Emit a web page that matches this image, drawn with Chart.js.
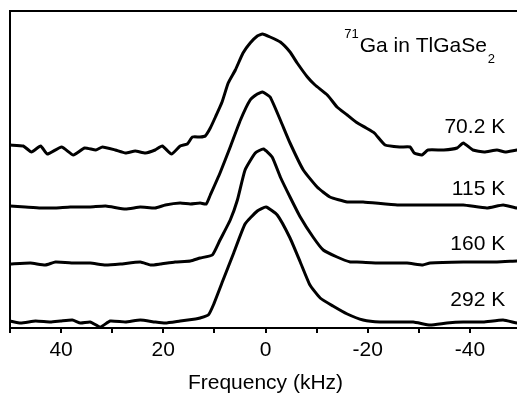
<!DOCTYPE html>
<html>
<head>
<meta charset="utf-8">
<script src="https://cdn.jsdelivr.net/npm/chart.js@4/dist/chart.umd.min.js"></script>
<style>
  html, body { margin: 0; padding: 0; background: #fff; overflow: hidden; }
  #wrap { width: 517px; height: 399px; overflow: hidden; position: relative; }
  canvas { display: block; }
</style>
</head>
<body>
<div id="wrap"><canvas id="c" width="530" height="399"></canvas></div>
<script>
// ---- Data (frequency in kHz, intensity in arbitrary units above each baseline) ----
const freqA = [50,47.4,45.8,44.0,42.7,39.9,37.6,35.4,33.2,31.9,29.4,27.4,25.5,23.5,21.6,20.2,18.4,16.7,15.3,14.3,12.8,11.8,10.8,9.8,8.5,7.3,5.9,4.4,3.0,1.6,0.6,-0.9,-2.9,-4.8,-6.2,-8.2,-9.7,-12.1,-14.0,-16.0,-17.7,-19.7,-21.3,-23.4,-26.3,-28.3,-29.1,-30.6,-31.8,-34.9,-37.5,-38.7,-40.6,-42.8,-45.3,-46.9,-49.2,-50];
const intA  = [5,4,-2,4,-4,3,-5,2,0,3,0,-3,-1,-3,0,4,-4,4,6,13,13,14,22,33,48,67,80,97,107,114,116,113,108,98,87,73,65,55,43,35,28,22,17,5,3,3,-3,-5,0,0,2,7,0,-2,0,-2,0,0];

const freqB = [50,47.0,44.0,41.1,38.2,34.3,31.3,27.4,24.5,21.6,19.6,16.7,14.7,12.8,11.6,10.8,8.9,6.9,4.9,3.0,1.6,0.6,-0.9,-2.9,-4.8,-7.4,-10.1,-12.6,-16.0,-19.1,-25.8,-32.2,-38.7,-43.3,-46.5,-49.2,-50];
const intB  = [0,-1,-2,-2,-1,-1,0,-3,-1,-2,1,3,2,3,2,11,33,59,86,106,112,114,109,86,63,36,19,9,4,4,1,1,1,-2,1,-2,-1];

const freqC = [50,46.0,43.1,41.1,37.2,34.3,31.3,28.4,24.5,22.5,20.6,17.7,14.7,12.8,10.4,8.9,6.9,5.5,4.0,2.0,0.4,-1.3,-2.9,-4.8,-6.8,-9.3,-11.3,-14.0,-16.6,-17.9,-22.4,-27.7,-30.8,-32.2,-38.7,-45.3,-49.2,-50];
const intC  = [-1,0,-2,1,0,0,-2,-1,1,-2,-1,1,2,5,8,23,43,63,93,110,114,106,86,66,46,26,13,6,1,1,0,0,-2,0,1,1,2,2];

const freqD = [50,47.9,45.0,42.1,40.1,37.8,36.2,34.3,32.3,30.4,27.4,24.5,21.6,19.6,16.7,13.7,12.8,11.2,10.2,8.3,6.3,4.0,1.6,-0.1,-2.3,-4.8,-6.8,-8.7,-10.7,-13.2,-16.0,-19.1,-22.4,-28.9,-32.2,-35.5,-38.7,-42.6,-46.5,-49.2,-50];
const intD  = [1,-1,1,0,1,2,-1,0,-5,1,0,2,0,-1,1,3,4,7,17,42,68,98,111,115,107,84,60,37,24,16,8,2,0,0,-3,-1,0,0,2,-1,-1];

const offsets = [178, 122, 65, 6];           // vertical offsets of stacked spectra
const seriesLabels = ['70.2 K', '115 K', '160 K', '292 K'];
const labelPos = [201, 139, 84, 28];          // label heights (same units as y axis)
const xTicksMajor = [40, 20, 0, -20, -40];

const FONT = "'Liberation Sans', Arial, Helvetica, sans-serif";

function build(freq, inten, off) {
  return freq.map((f, i) => ({ x: f, y: off + inten[i] }));
}

const sets = [[freqA,intA],[freqB,intB],[freqC,intC],[freqD,intD]].map((p, k) => ({
  label: seriesLabels[k],
  data: build(p[0], p[1], offsets[k]),
  borderColor: '#000',
  borderWidth: 3,
  pointRadius: 0,
  tension: 0.15,
  fill: false
}));

const overlay = {
  id: 'overlay',
  afterDraw(chart) {
    const ctx = chart.ctx, a = chart.chartArea;
    const xs = chart.scales.x, ys = chart.scales.y;
    ctx.save();
    ctx.strokeStyle = '#000';
    ctx.lineWidth = 2;
    ctx.beginPath();
    ctx.moveTo(a.left, a.bottom);
    ctx.lineTo(a.left, a.top);
    ctx.lineTo(a.right + 2, a.top);
    ctx.stroke();

    ctx.fillStyle = '#000';
    ctx.textBaseline = 'middle';
    ctx.textAlign = 'right';
    ctx.font = '21px ' + FONT;
    seriesLabels.forEach((t, i) => {
      ctx.fillText(t, xs.getPixelForValue(-46.9), ys.getPixelForValue(labelPos[i]));
    });

    // title: 71Ga in TlGaSe2
    ctx.textAlign = 'left';
    let x = xs.getPixelForValue(-15.4);
    const yMain = ys.getPixelForValue(282);
    ctx.font = '13px ' + FONT;
    ctx.fillText('71', x, yMain - 12);
    x += ctx.measureText('71').width + 1;
    ctx.font = '21px ' + FONT;
    ctx.fillText('Ga in TlGaSe', x, yMain);
    x += ctx.measureText('Ga in TlGaSe').width + 1;
    ctx.font = '13px ' + FONT;
    ctx.fillText('2', x, yMain + 13);
    ctx.restore();
  }
};

new Chart(document.getElementById('c'), {
  type: 'line',
  data: { datasets: sets },
  options: {
    responsive: false,
    animation: false,
    layout: { padding: { left: 10, top: 11, right: 9, bottom: 0 } },
    plugins: { legend: { display: false }, tooltip: { enabled: false } },
    scales: {
      x: {
        type: 'linear',
        reverse: true,
        min: -50,
        max: 50,
        afterFit(s) { s.height = 71; },
        border: { display: true, color: '#000', width: 2 },
        grid: { drawOnChartArea: false, drawTicks: true, tickLength: 5, color: '#000', lineWidth: 2 },
        ticks: {
          stepSize: 10,
          autoSkip: false,
          maxRotation: 0,
          padding: 5,
          color: '#000',
          font: { family: FONT, size: 21 },
          callback: v => xTicksMajor.includes(v) ? String(v) : ''
        },
        title: {
          display: true,
          text: 'Frequency (kHz)',
          color: '#000',
          font: { family: FONT, size: 21 },
          padding: { top: 0, bottom: 3 }
        }
      },
      y: {
        display: false,
        min: 0,
        max: 317
      }
    }
  },
  plugins: [overlay]
});
</script>
</body>
</html>
